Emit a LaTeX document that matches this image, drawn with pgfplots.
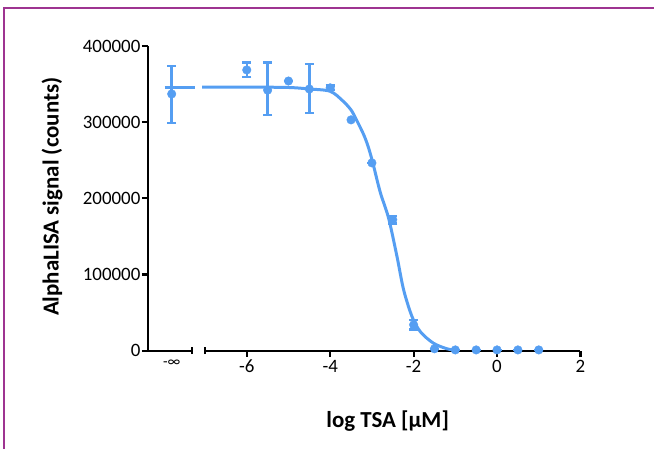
\documentclass[border=0pt]{standalone}
\usepackage{pgfplots}
\pgfplotsset{compat=1.18}
\usepackage{pgfplotstable}
\usepackage{fontspec}
\setmainfont{Carlito}
\definecolor{ptblue}{RGB}{85,158,242}
\definecolor{framec}{RGB}{158,52,145}

% measured points: log conc, signal, error up, error down
\pgfplotstableread{
x     y       ep     em
-7.8  337000  37000  38000
-6    368500  9500   9500
-5.5  342000  36000  32500
-5    354000  0      0
-4.5  343500  32500  31500
-4    345000  3000   3000
-3.5  303000  0      0
-3    246500  0      0
-2.5  172000  5000   5000
-2    34000   6000   6000
-1.5  2500    0      0
-1    1000    0      0
-0.5  1000    0      0
0     1000    0      0
0.5   1000    0      0
1     1000    0      0
}\pts

% fitted curve
\pgfplotstableread{
x      y
-7.97  346000
-7.23  346000
}\fitA
\pgfplotstableread{
x      y
-7.07  346000
-6     346000
-5     345500
-4.5   343500
-4     340500
-3.7   328000
-3.5   316000
-3.37  303000
-3.2   284000
-3.09  268000
-2.98  247000
-2.8   208000
-2.6   174000
-2.4   124000
-2.24  80000
-2.04  45000
-1.84  25000
-1.53  10000
-1.2   2500
-0.95  300
}\fitB

\begin{document}
\begin{tikzpicture}
\path (0,0) rectangle (655bp,-449bp);
\draw[framec, line width=1.2bp] (4bp,-449bp) -- (4bp,-8bp) -- (655bp,-8bp);
\begin{axis}[
  at={(148bp,-351bp)}, anchor=south west,
  scale only axis, width=433bp, height=305bp,
  xmin=-8.371, xmax=2, ymin=0, ymax=400000,
  axis x line*=bottom, axis y line*=left,
  x axis line style={draw=none},
  y axis line style={line width=2.2bp},
  tick style={black, line width=2.2bp},
  major tick length=6bp, tick align=outside,
  xtick={-6,-4,-2,0,2},
  ytick={0,100000,200000,300000,400000},
  scaled y ticks=false,
  yticklabel style={/pgf/number format/fixed, /pgf/number format/1000 sep={}, xshift=2bp},
  /pgf/number format/assume math mode=true,
  tick label style={font=\fontsize{19}{21}\selectfont},
  extra x ticks={-7.8}, extra x tick labels={\fontsize{15}{17}\selectfont -∞},
  extra x tick style={major tick style={draw=none}},
  clip=false,
]
\draw[line width=2.2bp] (axis cs:-8.40,0) -- (axis cs:-7.32,0);
\draw[line width=2.2bp] (axis cs:-7,0) -- (axis cs:2,0);
\draw[line width=2.2bp] (axis cs:-7.32,-4600) -- (axis cs:-7.32,4600);
\draw[line width=2.2bp] (axis cs:-7,-4600) -- (axis cs:-7,4600);
\addplot[ptblue, line width=3bp] table {\fitA};
\addplot[ptblue, line width=3bp, smooth] table {\fitB};
\addplot[only marks, mark=*, mark size=4.3bp, ptblue,
  error bars/.cd, y dir=both, y explicit,
  error bar style={line width=2.5bp, ptblue},
  error mark options={rotate=90, line width=2.5bp, mark size=4.5bp, ptblue}]
  table[x=x, y=y, y error plus=ep, y error minus=em] {\pts};
\end{axis}
\node[font=\bfseries\fontsize{23}{25}\selectfont] at (388bp,-421bp) {log TSA [µM]};
\node[rotate=90, font=\bfseries\fontsize{23}{25}\selectfont] at (52bp,-197bp) {AlphaLISA signal (counts)};
\end{tikzpicture}
\end{document}
